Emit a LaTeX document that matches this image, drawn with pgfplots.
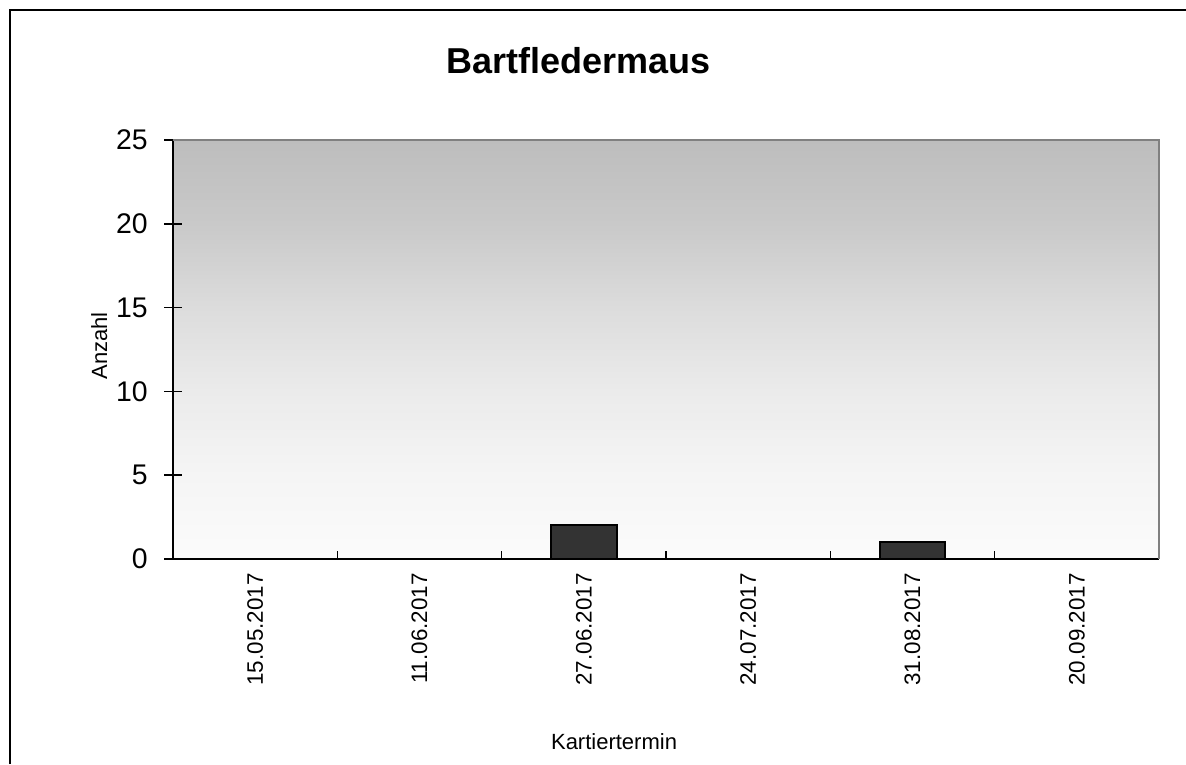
\documentclass[border=0pt]{standalone}
\usepackage{pgfplots}
\pgfplotsset{compat=1.18}
\usepackage{fontspec}
\setmainfont{Liberation Sans}
\definecolor{barfill}{HTML}{333333}
\definecolor{frameline}{HTML}{808080}
\definecolor{g0}{HTML}{FBFBFB}
\definecolor{g20}{HTML}{F5F5F5}
\definecolor{g40}{HTML}{EBEBEB}
\definecolor{g60}{HTML}{DCDCDC}
\definecolor{g80}{HTML}{C9C9C9}
\definecolor{g100}{HTML}{BDBDBD}
\pgfdeclareverticalshading{bgshade}{100bp}{color(0bp)=(g0); color(25bp)=(g0); color(35bp)=(g20); color(45bp)=(g40); color(55bp)=(g60); color(65bp)=(g80); color(75bp)=(g100); color(100bp)=(g100)}
\begin{document}
\begin{tikzpicture}
\path[use as bounding box] (0,0) rectangle (593pt,-382pt);
\fill[white] (0,0) rectangle (593pt,-382pt);
\draw[line width=1pt, black] (5pt,-382pt) -- (5pt,-5pt) -- (593pt,-5pt);
\begin{axis}[
  at={(86.5pt,-279.5pt)}, anchor=south west,
  scale only axis, width=493pt, height=209.5pt,
  xmin=0, xmax=6, ymin=0, ymax=25,
  axis x line*=bottom, axis y line*=left,
  axis line style={line width=1pt, black, -},
  axis background/.style={shading=bgshade},
  ytick={0,5,10,15,20,25},
  xtick={0.5,1.5,2.5,3.5,4.5,5.5},
  xticklabels={15.05.2017,11.06.2017,27.06.2017,24.07.2017,31.08.2017,20.09.2017},
  minor xtick={1,2,3,4,5},
  tick align=center,
  major tick length=9pt,
  minor tick length=4pt,
  major x tick style={draw=none},
  minor x tick style={black, line width=0.8pt, yshift=2pt},
  y tick style={black, line width=0.8pt},
  /pgf/number format/assume math mode=true,
  yticklabel style={font=\fontsize{14.2}{16}\selectfont, anchor=east, inner sep=0pt, xshift=-8pt},
  xticklabel style={font=\fontsize{11.2}{13}\selectfont, rotate=90, anchor=east, inner sep=0pt, xshift=-2.5pt},
  ylabel={Anzahl},
  ylabel style={font=\fontsize{11}{13}\selectfont, at={(axis description cs:-0.0669,0.5084)}, anchor=base, rotate=0},
  xlabel={Kartiertermin},
  xlabel style={font=\fontsize{11}{13}\selectfont, at={(axis description cs:0.4473,-0.4558)}, anchor=base},
  title={Bartfledermaus},
  title style={font=\fontsize{18}{20}\selectfont\bfseries, at={(axis description cs:0.411,1.131)}, anchor=base},
  clip=false,
]
\draw[line width=1pt, frameline] (rel axis cs:0,1) -- (rel axis cs:1,1) -- (rel axis cs:1,0);
\addplot[ybar, bar width=0.4, fill=barfill, draw=black, line width=1pt] coordinates {
  (0.5,0) (1.5,0) (2.5,2) (3.5,0) (4.5,1) (5.5,0)
};
\end{axis}
\end{tikzpicture}
\end{document}
